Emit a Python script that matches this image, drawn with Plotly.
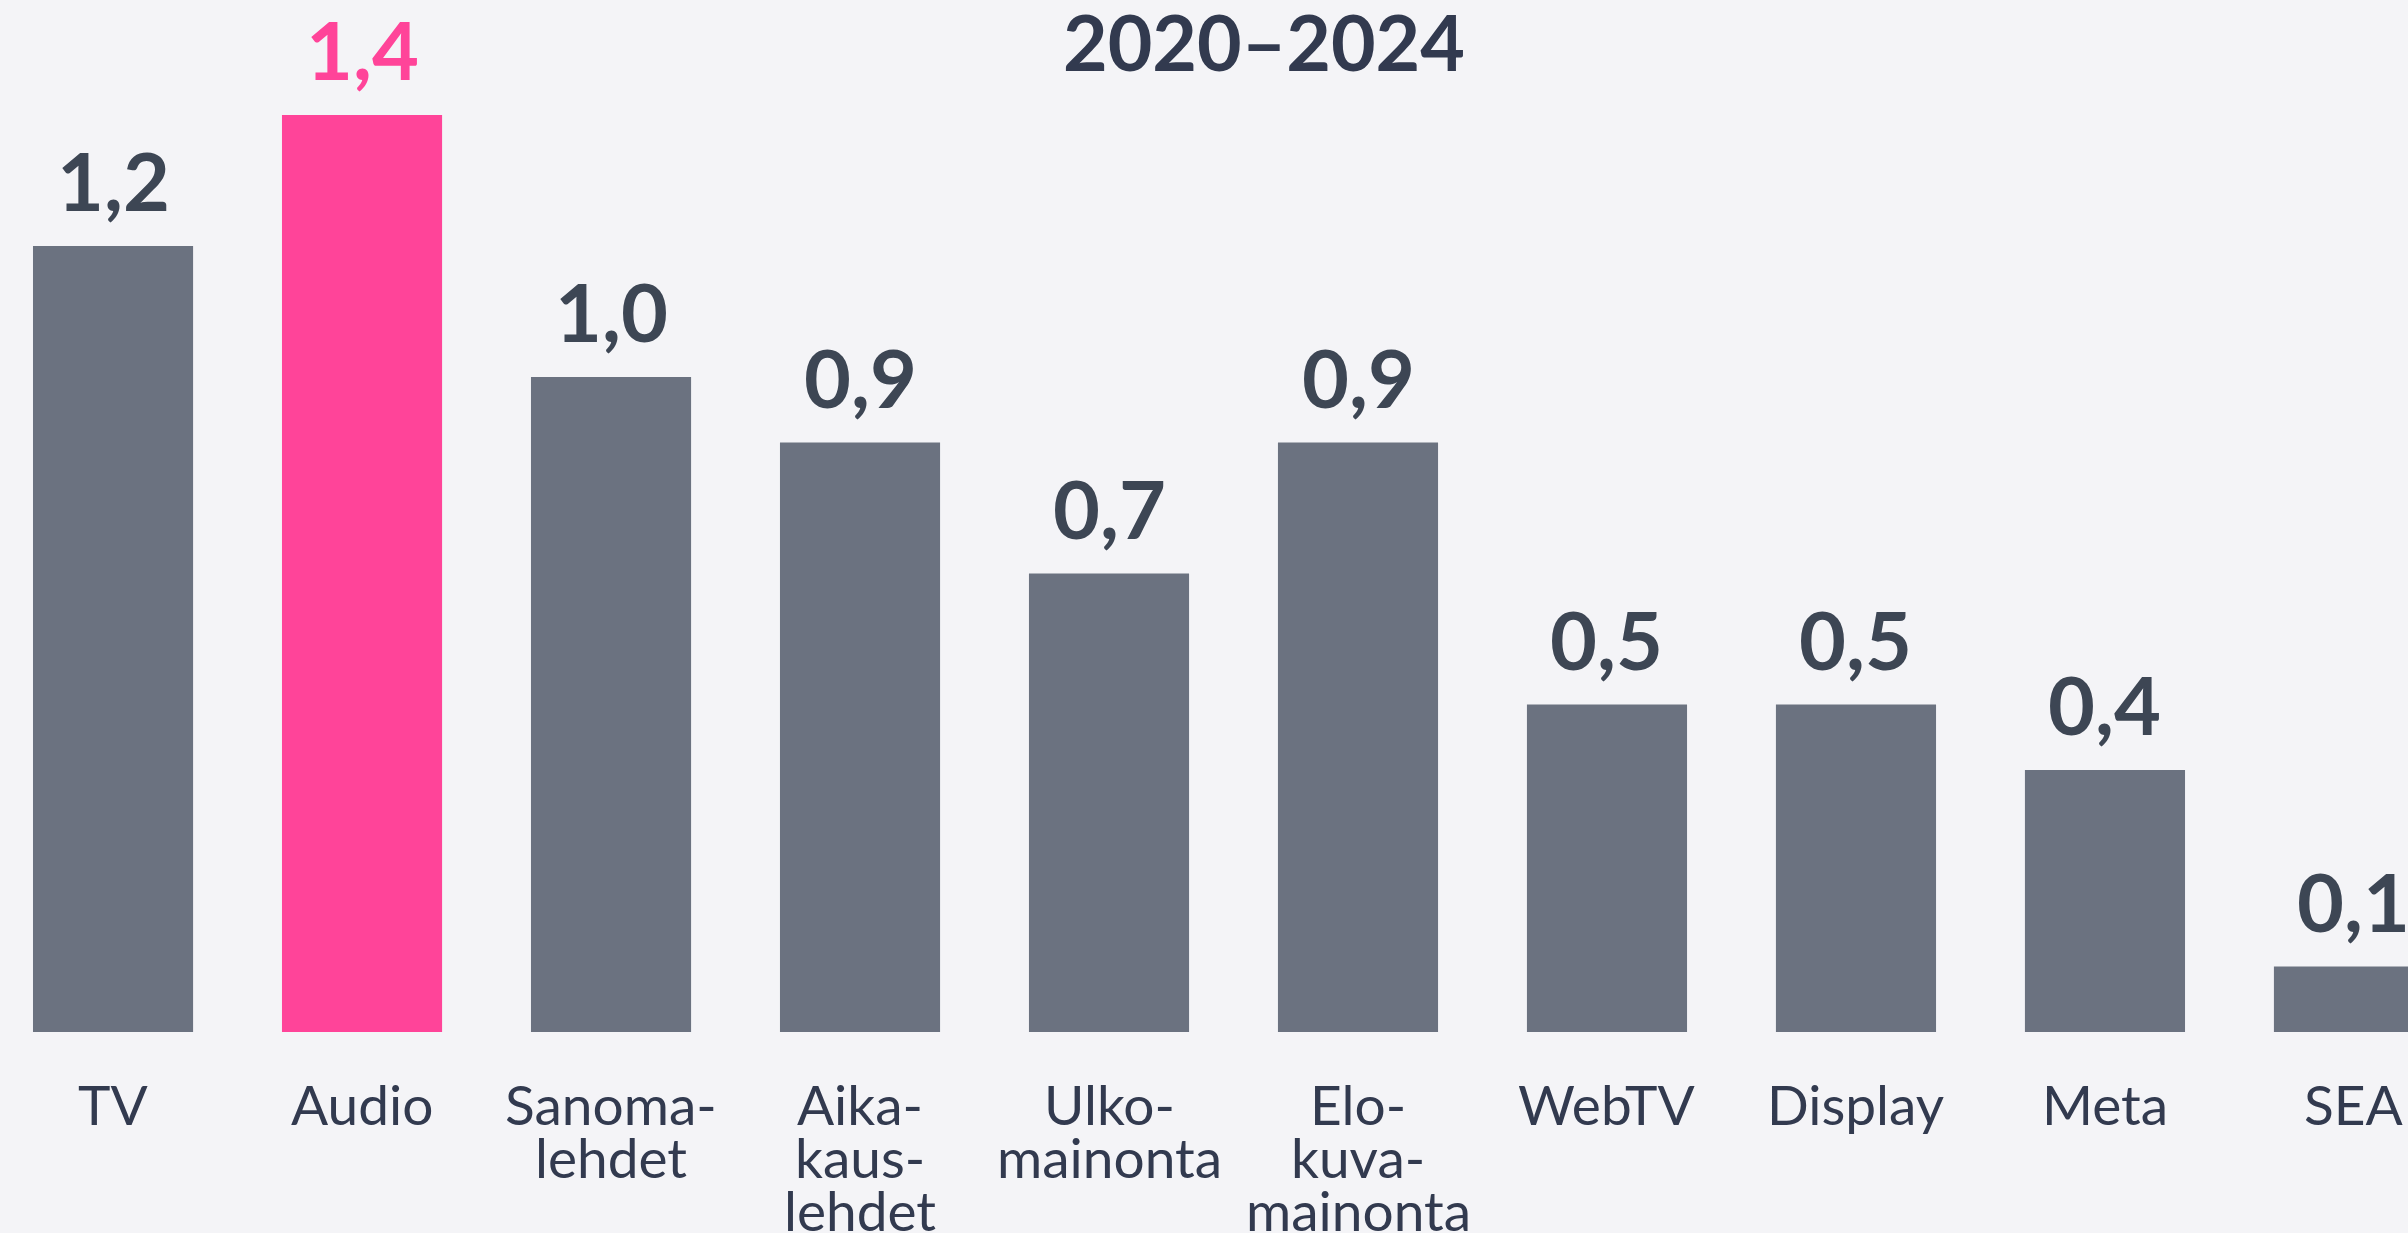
import plotly.graph_objects as go

categories = ["TV", "Audio", "Sanoma-<br>lehdet", "Aika-<br>kaus-<br>lehdet", "Ulko-<br>mainonta",
              "Elo-<br>kuva-<br>mainonta", "WebTV", "Display", "Meta", "SEA"]
values = [1.2, 1.4, 1.0, 0.9, 0.7, 0.9, 0.5, 0.5, 0.4, 0.1]
value_labels = ["1,2", "1,4", "1,0", "0,9", "0,7", "0,9", "0,5", "0,5", "0,4", "0,1"]
highlight = "Audio"
title_text = "2020–2024"

GREY = "#6b7280"
PINK = "#ff4499"
DARK = "#3d4654"
NAVY = "#323a4f"
BG = "#f4f4f7"

colors = [PINK if c == highlight else GREY for c in categories]

fig = go.Figure()
fig.add_trace(go.Bar(x=categories, y=values, marker=dict(color=colors, line=dict(width=0)),
                     hoverinfo="skip"))

annotations = []
for c, v, lab, col in zip(categories, values, value_labels, colors):
    annotations.append(dict(x=c, y=v, xref="x", yref="y", text=lab, showarrow=False,
                            yanchor="bottom", yshift=16,
                            font=dict(family="Lato", size=81, color=PINK if col == PINK else DARK,
                                      weight="bold")))
    for k, line in enumerate(c.split("<br>")):
        annotations.append(dict(x=c, y=0, xref="x", yref="paper", text=line, showarrow=False,
                                yanchor="top", yshift=-38 - 53 * k, borderpad=0,
                                font=dict(family="Lato", size=55, color=NAVY)))

annotations.append(dict(x=1264 / 2408, y=1, xref="paper", yref="paper", yanchor="top",
                        yshift=7, text=title_text, showarrow=False,
                        font=dict(family="Lato", size=77, color=NAVY, weight="bold")))

fig.update_layout(
    width=2408, height=1233,
    margin=dict(l=0, r=0, t=0, b=201),
    paper_bgcolor=BG, plot_bgcolor=BG,
    bargap=0.357,
    showlegend=False,
    xaxis=dict(range=[-0.454, 9.217], showticklabels=False, showgrid=False, zeroline=False,
               showline=False, ticks=""),
    yaxis=dict(range=[0, 1032 / 655], showticklabels=False, showgrid=False, zeroline=False,
               showline=False, ticks=""),
    annotations=annotations,
)

fig.write_html("out.html", config={"displayModeBar": False},
               post_script="document.body.style.margin='0';document.body.style.background='%s';" % BG)
